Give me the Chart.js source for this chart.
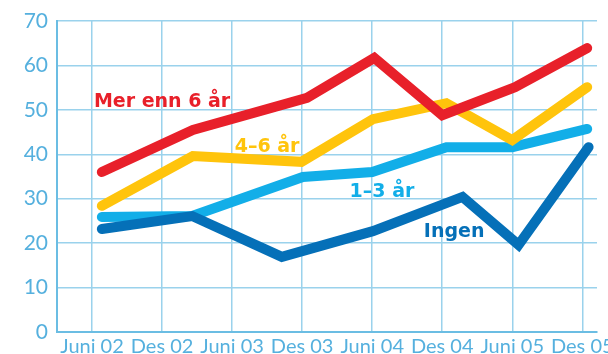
<!DOCTYPE html>
<html>
<head>
<meta charset="utf-8">
<script src="https://cdn.jsdelivr.net/npm/chart.js@4/dist/chart.umd.min.js"></script>
<style>
  html, body { margin: 0; padding: 0; background: #fff; }
  #wrap { width: 608px; height: 354px; }
</style>
</head>
<body>
<div id="wrap"><canvas id="chart" width="608" height="354"></canvas></div>
<script>
// Etiketter på x-aksen (en per rutenettlinje)
const periods = ['Juni 02', 'Des 02', 'Juni 03', 'Des 03', 'Juni 04', 'Des 04', 'Juni 05', 'Des 05'];
const yTicks = [0, 10, 20, 30, 40, 50, 60, 70];

// Knekkpunktene ligger ikke helt på rutenettet, så x er i "periode-enheter"
const merEnn6X = [0.14, 1.44, 3.07, 4.03, 5.0, 6.04, 7.07];
const merEnn6Y = [36.0, 45.5, 52.7, 61.7, 48.8, 55.1, 63.9];

const fireTil6X = [0.14, 1.44, 2.99, 4.01, 5.06, 6.0, 7.07];
const fireTil6Y = [28.4, 39.6, 38.3, 47.9, 51.5, 43.2, 55.1];

const enTil3X = [0.14, 1.43, 3.01, 4.0, 5.06, 6.0, 7.07];
const enTil3Y = [25.9, 26.1, 34.9, 36.0, 41.6, 41.6, 45.7];

const ingenX = [0.14, 1.43, 2.71, 4.01, 5.29, 6.09, 7.09];
const ingenY = [23.2, 26.1, 16.9, 22.7, 30.4, 19.6, 41.6];

// Navn på seriene, skrevet rett inn i diagrammet
const seriesNames = ['Mer enn 6 år', '4–6 år', '1–3 år', 'Ingen'];
const nameAnchorX = [1.0, 2.5, 4.14, 5.17];
const nameAnchorY = [50.6, 40.5, 30.4, 21.4];

const colors = ['#e8202a', '#ffc40c', '#12aee8', '#0570b8'];

function points(xs, ys) {
    return xs.map((x, i) => ({ x: x, y: ys[i] }));
}

function makeDataset(label, xs, ys, color, order) {
    return {
        label: label,
        data: points(xs, ys),
        borderColor: color,
        backgroundColor: color,
        borderWidth: 10,
        borderCapStyle: 'round',
        borderJoinStyle: 'miter',
        pointRadius: 0,
        tension: 0,
        order: order
    };
}

// Plugin som skriver seriene sine navn inne i plottet
const seriesLabels = {
    id: 'seriesLabels',
    afterDatasetsDraw(chart) {
        const ctx = chart.ctx;
        const xs = chart.scales.x;
        const ys = chart.scales.y;
        ctx.save();
        ctx.font = 'bold 19px "DejaVu Sans", sans-serif';
        ctx.textAlign = 'center';
        ctx.textBaseline = 'alphabetic';
        seriesNames.forEach((name, i) => {
            ctx.fillStyle = colors[i];
            ctx.fillText(name, xs.getPixelForValue(nameAnchorX[i]), ys.getPixelForValue(nameAnchorY[i]));
        });
        ctx.restore();
    }
};

const gridColor = '#9ad2ec';
const axisColor = '#6bbde3';
const tickColor = '#55b0de';

new Chart(document.getElementById('chart'), {
    type: 'line',
    data: {
        datasets: [
            makeDataset(seriesNames[0], merEnn6X, merEnn6Y, colors[0], 1),
            makeDataset(seriesNames[1], fireTil6X, fireTil6Y, colors[1], 2),
            makeDataset(seriesNames[2], enTil3X, enTil3Y, colors[2], 3),
            makeDataset(seriesNames[3], ingenX, ingenY, colors[3], 0)
        ]
    },
    options: {
        responsive: false,
        animation: false,
        layout: { padding: { top: 21, right: 11, left: 0, bottom: 0 } },
        plugins: {
            legend: { display: false },
            tooltip: { enabled: false }
        },
        scales: {
            x: {
                type: 'linear',
                min: -0.5,
                max: 7.21,
                afterBuildTicks: scale => {
                    scale.ticks = periods.map((p, i) => ({ value: i }));
                },
                afterFit: scale => {
                    scale.height = 22;
                    scale.paddingLeft = 0;
                    scale.paddingRight = 0;
                },
                ticks: {
                    autoSkip: false,
                    maxRotation: 0,
                    padding: 3,
                    color: tickColor,
                    font: { family: 'Lato, sans-serif', size: 20 },
                    callback: value => periods[value]
                },
                grid: { color: gridColor, lineWidth: 1.5, drawTicks: false },
                border: { color: axisColor, width: 2 }
            },
            y: {
                min: 0,
                max: 70,
                afterBuildTicks: scale => {
                    scale.ticks = yTicks.map(v => ({ value: v }));
                },
                afterFit: scale => {
                    scale.width = 57;
                    scale.paddingTop = 0;
                    scale.paddingBottom = 0;
                },
                ticks: {
                    padding: 9,
                    color: tickColor,
                    font: { family: 'Lato, sans-serif', size: 21 }
                },
                grid: { color: gridColor, lineWidth: 1.5, drawTicks: false },
                border: { color: axisColor, width: 2 }
            }
        }
    },
    plugins: [seriesLabels]
});
</script>
</body>
</html>
